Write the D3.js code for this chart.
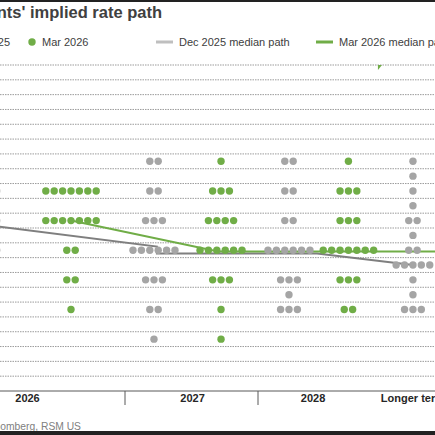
<!DOCTYPE html>
<html>
<head>
<meta charset="utf-8">
<script src="https://cdn.jsdelivr.net/npm/d3@7"></script>
<style>
  body { margin: 0; background: #fff; }
  svg { display: block; font-family: "Liberation Sans", Arial, sans-serif; }
</style>
</head>
<body>
<div id="chart"></div>
<script>
// Column labels and their x-values (chart units, column boundaries at 0, 1, 2)
const columns = ["2026", "2027", "2028", "Longer term"];
const labelX = [0.267, 1.508, 2.414, 3.165];
const decX = [-0.06, 1.218, 2.233, 3.165];   // Dec 2025 dot columns
const marX = [0.594, 1.722, 2.68];           // Mar 2026 dot columns (longer run is off frame)
const boundaries = [0, 1, 2];

// [rate midpoint, number of participants]
const dec2026 = [[3.875, 3], [3.625, 4], [3.375, 4], [3.125, 4], [2.875, 2], [2.625, 1], [2.125, 1]];
const dec2027 = [[3.875, 2], [3.625, 2], [3.375, 3], [3.125, 6], [2.875, 3], [2.625, 2], [2.375, 1]];
const dec2028 = [[3.875, 2], [3.625, 2], [3.375, 2], [3.125, 6], [2.875, 3], [2.75, 1], [2.625, 3]];
const decLonger = [[3.875, 1], [3.75, 1], [3.625, 1], [3.5, 1], [3.375, 2], [3.25, 1], [3.125, 2],
                   [3.0, 5], [2.875, 1], [2.75, 1], [2.625, 3]];
const mar2026 = [[3.625, 7], [3.375, 7], [3.125, 2], [2.875, 2], [2.625, 1]];
const mar2027 = [[3.875, 1], [3.625, 3], [3.375, 4], [3.125, 6], [2.875, 3], [2.625, 1], [2.375, 1]];
const mar2028 = [[3.875, 1], [3.625, 3], [3.375, 3], [3.125, 7], [2.875, 3], [2.625, 2]];

// median paths as drawn: [x, rate]
const decMedianPath = [[-0.06, 3.34], [1.24, 3.156], [1.24, 3.097], [2.444, 3.097], [3.165, 3.0]];
const marMedianPath = [[0.594, 3.375], [1.70, 3.115], [3.6, 3.115]];

const gridRates = d3.range(2.0625, 4.7, 0.125);

let width = 435, height = 435;
const GREEN = "#70ad47", GREY = "#a5a5a5";

let svg = d3.select("#chart")
            .append("svg")
            .attr("width", width)
            .attr("height", height)
            .style("background", "#fff");

let x = d3.scaleLinear().domain([1, 2]).range([125, 258]);
let y = d3.scaleLinear().domain([1.9375, 4.6875]).range([391, 65]);

// gridlines
svg.append("g")
   .selectAll("line")
   .data(gridRates)
   .enter()
   .append("line")
   .attr("x1", 0)
   .attr("x2", width)
   .attr("y1", d => y(d))
   .attr("y2", d => y(d))
   .attr("stroke", "#9b9b9b")
   .attr("stroke-width", 1)
   .attr("stroke-dasharray", "1.5,1");

// median paths
let line = d3.line().x(d => x(d[0])).y(d => y(d[1]));

svg.append("path")
   .datum(decMedianPath)
   .attr("d", line)
   .attr("fill", "none")
   .attr("stroke", "#7f7f7f")
   .attr("stroke-width", 2);

svg.append("path")
   .datum(marMedianPath)
   .attr("d", line)
   .attr("fill", "none")
   .attr("stroke", GREEN)
   .attr("stroke-width", 2);

// dots: each row is centred on its column
const spacing = 8.4;
function drawDots(rows, cx, color) {
    rows.forEach(([rate, n]) => {
        d3.range(n).forEach(i => {
            svg.append("circle")
               .attr("cx", x(cx) + (i - (n - 1) / 2) * spacing)
               .attr("cy", y(rate))
               .attr("r", 3.7)
               .attr("fill", color);
        });
    });
}
[dec2026, dec2027, dec2028, decLonger].forEach((rows, i) => drawDots(rows, decX[i], GREY));
[mar2026, mar2027, mar2028].forEach((rows, i) => drawDots(rows, marX[i], GREEN));

// small green marker at the top of the plot
let mx = x(2.902), my = y(4.6875);
svg.append("path")
   .attr("d", `M${mx},${my} L${mx + 4},${my} L${mx},${my + 5} Z`)
   .attr("fill", GREEN);

// x axis
svg.append("line")
   .attr("x1", 0).attr("x2", width)
   .attr("y1", y(1.9375)).attr("y2", y(1.9375))
   .attr("stroke", "#595959")
   .attr("stroke-width", 1);

svg.selectAll(".tick")
   .data(boundaries)
   .enter()
   .append("line")
   .attr("x1", d => x(d)).attr("x2", d => x(d))
   .attr("y1", y(1.9375)).attr("y2", y(1.9375) + 14)
   .attr("stroke", "#595959");

svg.selectAll(".cat")
   .data(columns)
   .enter()
   .append("text")
   .attr("x", (d, i) => x(labelX[i]))
   .attr("y", 402)
   .attr("text-anchor", "middle")
   .style("font-size", "11px")
   .style("font-weight", "bold")
   .attr("fill", "#262626")
   .text(d => d);

// title
svg.append("text")
   .attr("x", 162)
   .attr("y", 18)
   .attr("text-anchor", "end")
   .style("font-size", "16.5px")
   .style("font-weight", "bold")
   .attr("fill", "#404040")
   .text("FOMC participants' implied rate path");

// legend
const legendY = 42;
const legendItems = [
    {label: "Dec 2025", type: "dot", color: GREY, x: -47},
    {label: "Mar 2026", type: "dot", color: GREEN, x: 32},
    {label: "Dec 2025 median path", type: "line", color: "#bfbfbf", x: 156},
    {label: "Mar 2026 median path", type: "line", color: GREEN, x: 316}
];
legendItems.forEach(item => {
    if (item.type === "dot") {
        svg.append("circle")
           .attr("cx", item.x).attr("cy", legendY)
           .attr("r", 3.7)
           .attr("fill", item.color);
    } else {
        svg.append("line")
           .attr("x1", item.x).attr("x2", item.x + 17)
           .attr("y1", legendY).attr("y2", legendY)
           .attr("stroke", item.color)
           .attr("stroke-width", 3);
    }
    svg.append("text")
       .attr("x", item.type === "dot" ? item.x + 10 : item.x + 23)
       .attr("y", legendY + 4)
       .style("font-size", "11px")
       .attr("fill", "#404040")
       .text(item.label);
});

// source
svg.append("text")
   .attr("x", 81)
   .attr("y", 430)
   .attr("text-anchor", "end")
   .style("font-size", "10.3px")
   .attr("fill", "#808080")
   .text("Source: Bloomberg, RSM US");

// frame bands
svg.append("rect").attr("x", 0).attr("y", 0).attr("width", width).attr("height", 2).attr("fill", "#222");
svg.append("rect").attr("x", 0).attr("y", 431).attr("width", width).attr("height", 4).attr("fill", "#222");
</script>
</body>
</html>
